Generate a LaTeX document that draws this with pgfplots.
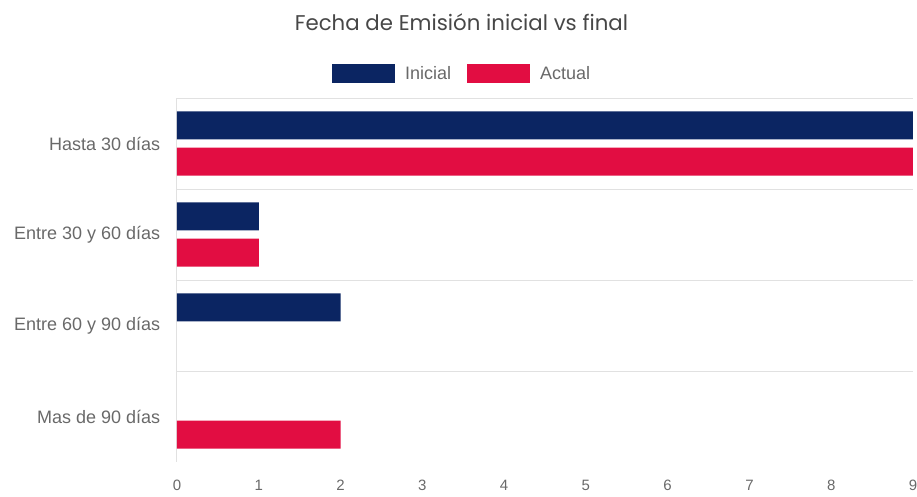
\documentclass[border=0pt]{standalone}
\usepackage{pgfplots}
\pgfplotsset{compat=1.18}
\usepackage{fontspec}
\setmainfont{Liberation Sans}
\newfontfamily\titlefont{Poppins}
\definecolor{navy}{RGB}{11,37,98}
\definecolor{crim}{RGB}{226,13,66}
\definecolor{lbl}{RGB}{105,105,105}
\definecolor{gridc}{RGB}{225,225,225}
\begin{document}
\begin{tikzpicture}
\begin{axis}[
  name=ax,
  scale only axis,
  width=736pt, height=364pt,
  xbar,
  y dir=reverse,
  xmin=0, xmax=9,
  ymin=-0.5, ymax=3.5,
  bar width=0.308,
  axis y line*=left,
  axis x line*=bottom,
  x axis line style={draw=none},
  y axis line style={draw=gridc, line width=1pt},
  xtick={0,1,...,9},
  xtick style={draw=none},
  extra x ticks={0},
  extra x tick labels={},
  extra x tick style={tick align=outside, major tick length=10pt, tick style={draw=gridc, line width=1pt}},
  ytick={0,1,2,3},
  yticklabels={Hasta 30 días, Entre 30 y 60 días, Entre 60 y 90 días, Mas de 90 días},
  ytick style={draw=none},
  extra y ticks={-0.5,0.5,1.5,2.5},
  extra y tick labels={},
  extra y tick style={grid=major, tick align=outside, major tick length=14pt, tick style={draw=gridc, line width=0.8pt}, major grid style={draw=gridc, line width=0.8pt}},
  yticklabel style={font=\fontsize{18}{20}\selectfont, text=lbl, xshift=-9pt},
  xticklabel style={font=\fontsize{15}{17}\selectfont, text=lbl, yshift=-17pt, inner sep=1pt},
  /pgf/number format/assume math mode=true,
  title={\titlefont\fontsize{21.3}{24}\selectfont Fecha de Emisión inicial vs final},
  title style={at={(axis description cs:0.3865,1.192)}, anchor=center, text=black!72},
  legend style={at={(axis description cs:0.386,1.068)}, anchor=center, draw=none, fill=none,
    legend columns=-1, font=\fontsize{18}{20}\selectfont, text=lbl,
    /tikz/every odd column/.append style={column sep=10pt},
    /tikz/every even column/.append style={column sep=16pt},
    nodes={inner sep=0pt}},
  legend image code/.code={\fill[#1] (0pt,-9.5pt) rectangle (63pt,9.5pt);},
]
\addplot+[draw=none, fill=navy, bar shift=-0.198] coordinates {(9,0) (1,1) (2,2)};
\addplot+[draw=none, fill=crim, bar shift=0.198] coordinates {(9,0) (1,1) (2,3)};
\legend{Inicial, Actual}
\end{axis}
\pgfresetboundingbox
\useasboundingbox ([xshift=-177pt,yshift=-35pt]ax.south west) rectangle ([xshift=740pt,yshift=462pt]ax.south west);
\end{tikzpicture}
\end{document}
